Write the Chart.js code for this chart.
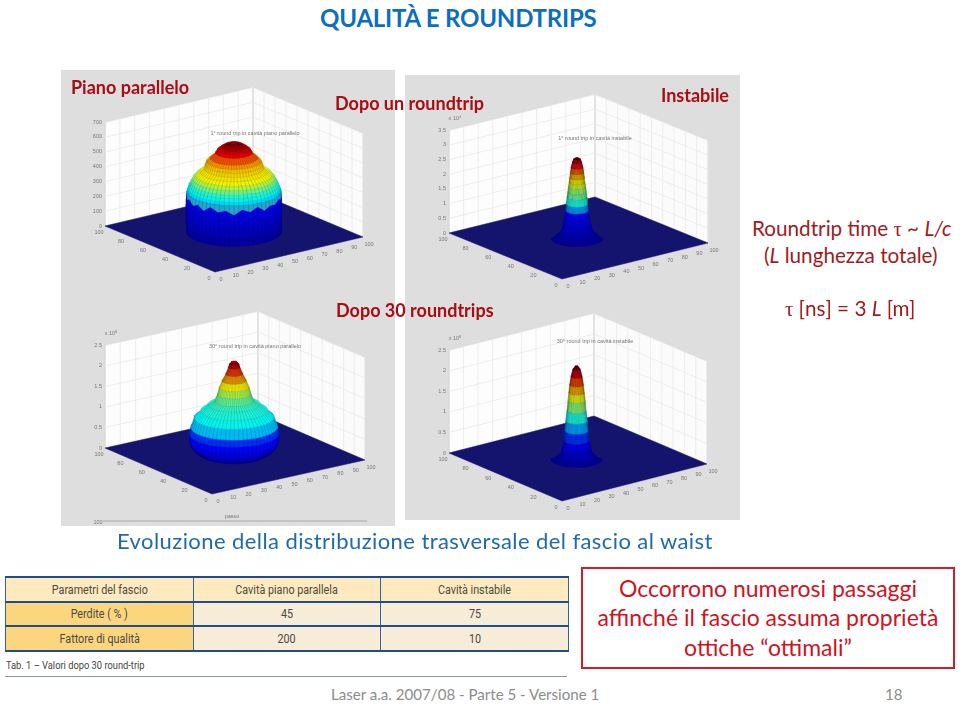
<!DOCTYPE html>
<html>
<head>
<meta charset="utf-8">
<script src="https://cdn.jsdelivr.net/npm/chart.js@4/dist/chart.umd.min.js"></script>
<style>
    html, body { margin: 0; padding: 0; background: #fff; }
    body { width: 960px; height: 705px; position: relative; overflow: hidden; font-family: Lato, "Open Sans", sans-serif; }
    .panel { position: absolute; background: #dedede; }
    .panel canvas { filter: blur(0.7px); }
    .t { position: absolute; white-space: nowrap; line-height: 1; transform: translateY(-50%); }
    .lab { font-weight: 700; font-size: 18px; color: #a90d12; }
    .side { font-size: 20.7px; color: #a01a1e; }
    .gr { font-family: "Liberation Serif", serif; }
    table { position: absolute; left: 5px; top: 576px; width: 564px; height: 76px; border-collapse: collapse; table-layout: fixed; font-family: Roboto, sans-serif; font-size: 12.5px; color: #4a4945; text-align: center; }
    td { border: 1.2px solid #2f63a3; border-top: 2px solid #1d4f8e; border-bottom: 2px solid #1d4f8e; padding: 0; background: #f7ecd8; }
    td span { display: inline-block; transform: scaleX(0.86); }
    tr:first-child td { background: #ffeac0; }
    td.h { background: #fbd67e !important; }
    #box { position: absolute; left: 581px; top: 567px; width: 370px; height: 98px; border: 2px solid #cf1d2b; }
</style>
</head>
<body>

<div class="t" style="left:320px;top:18px;font-size:24px;font-weight:700;color:#0b6fbe;letter-spacing:-0.2px">QUALITÀ E ROUNDTRIPS</div>

<div class="panel" style="left:61px;top:70px;width:334px;height:228px"><canvas id="chartA" width="334" height="228"></canvas></div>
<div class="panel" style="left:405px;top:75px;width:335px;height:223px"><canvas id="chartB" width="335" height="223"></canvas></div>
<div class="panel" style="left:61px;top:298px;width:334px;height:228px"><canvas id="chartC" width="334" height="228"></canvas></div>
<div class="panel" style="left:405px;top:298px;width:335px;height:222px"><canvas id="chartD" width="335" height="222"></canvas></div>

<div class="t lab" style="left:71px;top:87px">Piano parallelo</div>
<div class="t lab" style="left:335px;top:103px">Dopo un roundtrip</div>
<div class="t lab" style="left:661px;top:95px">Instabile</div>
<div class="t lab" style="left:336px;top:310px">Dopo 30 roundtrips</div>

<div class="t side" style="left:752px;top:229px">Roundtrip time <span class="gr">τ</span> ~ <i>L/c</i></div>
<div class="t side" style="left:764px;top:255px">(<i>L</i> lunghezza totale)</div>
<div class="t side" style="left:785px;top:309px"><span class="gr">τ</span> [ns] = 3 <i>L</i> [m]</div>

<div class="t" style="left:117px;top:541px;font-size:22px;color:#1f6aa8;letter-spacing:0.42px">Evoluzione della distribuzione trasversale del fascio al waist</div>

<table>
    <tr><td><span>Parametri del fascio</span></td><td><span>Cavità piano parallela</span></td><td><span>Cavità instabile</span></td></tr>
    <tr><td class="h"><span>Perdite ( % )</span></td><td><span>45</span></td><td><span>75</span></td></tr>
    <tr><td class="h"><span>Fattore di qualità</span></td><td><span>200</span></td><td><span>10</span></td></tr>
</table>
<div class="t" style="left:6px;top:666px;font-family:Roboto,sans-serif;font-size:11.5px;color:#444;transform:translateY(-50%) scaleX(0.81);transform-origin:left center">Tab. 1 – Valori dopo 30 round-trip</div>
<div style="position:absolute;left:5px;top:676px;width:562px;height:1px;background:#8a97a3"></div>

<div id="box"></div>
<div class="t" style="left:583px;width:370px;text-align:center;top:588px;font-size:23px;color:#d0131f">Occorrono numerosi passaggi</div>
<div class="t" style="left:583px;width:370px;text-align:center;top:617px;font-size:23px;color:#d0131f">affinché il fascio assuma proprietà</div>
<div class="t" style="left:583px;width:370px;text-align:center;top:647px;font-size:23px;color:#d0131f">ottiche “ottimali”</div>

<div class="t" style="left:331px;top:695px;font-size:15.1px;color:#8c8c8c">Laser a.a. 2007/08 - Parte 5 - Versione 1</div>
<div class="t" style="left:885px;top:695px;font-size:15.1px;color:#8c8c8c">18</div>

<script>
// beam profiles: radius on the floor (0-50) and height on the wall (0-1)
const radiusA = [25.7, 25.8, 25.9, 25.9, 25.8, 25.7, 25.5, 25, 24.3, 23.5, 22.4, 20.8, 18.5, 16.3, 15.6, 14.9, 13, 10, 9, 7.5, 6, 4.5, 2]
const heightA = [0, 0.08, 0.16, 0.24, 0.31, 0.355, 0.39, 0.42, 0.45, 0.48, 0.515, 0.55, 0.58, 0.61, 0.645, 0.68, 0.71, 0.76, 0.79, 0.81, 0.825, 0.84, 0.85]
const radiusB = [14, 12, 10, 8.4, 7.4, 6.6, 6, 5.8, 5.4, 5, 4.7, 4.3, 4, 3.6, 3.2, 2.5, 1.8, 0.6]
const heightB = [0, 0.015, 0.04, 0.08, 0.14, 0.205, 0.27, 0.335, 0.4, 0.45, 0.5, 0.545, 0.59, 0.64, 0.69, 0.74, 0.77, 0.78]
const radiusC = [17, 18, 21, 23, 24, 24, 23.3, 21.4, 18, 14, 10.5, 9, 8, 6.5, 4.5, 3, 2.5, 1.5]
const heightC = [0, 0.015, 0.04, 0.08, 0.135, 0.2, 0.265, 0.36, 0.425, 0.485, 0.52, 0.585, 0.65, 0.715, 0.78, 0.845, 0.875, 0.895]
const radiusD = [14, 11, 9, 7.8, 6.8, 6.3, 5.8, 5.2, 4.7, 4.2, 3.7, 3, 2, 0.8]
const heightD = [0, 0.015, 0.03, 0.1, 0.18, 0.275, 0.37, 0.47, 0.565, 0.645, 0.72, 0.8, 0.87, 0.9]

// ragged top of the blue cliff in the first panel, front half, left to right
const cliffA = [0.37, 0.33, 0.36, 0.32, 0.35, 0.31, 0.36, 0.32, 0.34, 0.3, 0.35, 0.32, 0.36, 0.31, 0.34, 0.33, 0.36, 0.33, 0.37]

// tick labels
const floorTicks = [0, 10, 20, 30, 40, 50, 60, 70, 80, 90, 100]
const sideTicks = [0, 20, 40, 60, 80, 100]
const zLabelsA = ['0', '100', '200', '300', '400', '500', '600', '700']
const zLabelsB = ['0', '0.5', '1', '1.5', '2', '2.5', '3', '3.5']
const zLabelsC = ['0', '0.5', '1', '1.5', '2', '2.5']
const zLabelsD = ['0', '0.5', '1', '1.5', '2', '2.5']
const titleA = '1° round trip in cavità piano parallelo'
const titleB = '1° round trip in cavità instabile'
const titleC = '30° round trip in cavità piano parallelo'
const titleD = '30° round trip in cavità instabile'

// where each 3d box sits on the page, colour stops are [height, position on the jet scale]
const panels = [
    {id: 'chartA', box: [61, 70, 334, 228], left: [105, 226], front: [215, 272], right: [363, 237], wall: 104, cx: 50, cy: 50,
        radius: radiusA, height: heightA, zLabels: zLabelsA, title: titleA, zExp: '', titlePos: [255, 133],
        stops: [[0, 0.03], [0.36, 0.12], [0.39, 0.33], [0.47, 0.42], [0.52, 0.52], [0.56, 0.62], [0.67, 0.68], [0.73, 0.78], [0.77, 0.87], [0.85, 0.97]]},
    {id: 'chartB', box: [405, 75, 335, 223], left: [449, 233], front: [562, 279], right: [708, 243], wall: 103, cx: 49, cy: 50,
        radius: radiusB, height: heightB, zLabels: zLabelsB, title: titleB, zExp: 'x 10⁴', titlePos: [595, 138],
        stops: [[0, 0.03], [0.25, 0.13], [0.33, 0.36], [0.5, 0.55], [0.62, 0.7], [0.78, 0.97]]},
    {id: 'chartC', box: [61, 298, 334, 228], left: [105, 448], front: [212, 494], right: [365, 460], wall: 103, cx: 49.5, cy: 50,
        radius: radiusC, height: heightC, zLabels: zLabelsC, title: titleC, zExp: 'x 10⁵', titlePos: [255, 346],
        stops: [[0, 0.03], [0.13, 0.1], [0.27, 0.2], [0.3, 0.3], [0.36, 0.37], [0.5, 0.42], [0.58, 0.5], [0.68, 0.62], [0.79, 0.78], [0.86, 0.88], [0.92, 0.98]]},
    {id: 'chartD', box: [405, 298, 335, 222], left: [449, 453], front: [562, 501], right: [707, 464], wall: 103, cx: 49, cy: 50,
        radius: radiusD, height: heightD, zLabels: zLabelsD, title: titleD, zExp: 'x 10⁵', titlePos: [595, 341],
        stops: [[0, 0.03], [0.2, 0.14], [0.4, 0.38], [0.62, 0.62], [0.82, 0.88], [0.9, 0.98]]},
]

const jet = [[0, 0, 0, 128], [0.125, 0, 0, 255], [0.375, 0, 255, 255], [0.625, 255, 255, 0], [0.875, 255, 0, 0], [1, 128, 0, 0]]

function lerpStops(stops, v) {
    if (v <= stops[0][0]) return stops[0].slice(1)
    for (let i = 1; i < stops.length; i++) {
        if (v <= stops[i][0]) {
            const k = (v - stops[i - 1][0]) / (stops[i][0] - stops[i - 1][0])
            return stops[i].slice(1).map((c, j) => stops[i - 1][j + 1] + (c - stops[i - 1][j + 1]) * k)
        }
    }
    return stops[stops.length - 1].slice(1)
}

function colourAt(panel, z, dark) {
    const c = lerpStops(jet, lerpStops(panel.stops, z)[0])
    const f = dark ? 0.8 : 0.95
    return 'rgb(' + c.map(v => Math.round(v * f)).join(',') + ')'
}

// floor coordinates 0-100 plus wall fraction -> axis values
function project(p, x, y, z) {
    return {
        x: p.front[0] + (p.right[0] - p.front[0]) * x / 100 + (p.left[0] - p.front[0]) * y / 100,
        y: p.front[1] + (p.right[1] - p.front[1]) * x / 100 + (p.left[1] - p.front[1]) * y / 100 - p.wall * z,
    }
}

function shape(points, fillColour, lineColour, lineWidth) {
    return {
        data: points.concat([points[0]]), showLine: true, fill: 'shape', tension: 0,
        backgroundColor: fillColour, borderColor: lineColour || fillColour, borderWidth: lineWidth === undefined ? 0.6 : lineWidth,
    }
}

function stroke(points, colour, width) {
    return {data: points, showLine: true, fill: false, tension: 0, borderColor: colour, borderWidth: width}
}

function frontAngle(p) {
    // angle of the rightmost point of a floor circle on screen
    const ux = p.right[0] - p.front[0], vx = p.left[0] - p.front[0]
    return Math.atan2(vx, ux)
}

function ringPoint(p, r, z, t) {
    return project(p, p.cx + r * Math.cos(t), p.cy + r * Math.sin(t), z)
}

function buildDatasets(p) {
    const sets = []
    // walls and floor
    sets.push(shape([project(p, 0, 100, 0), project(p, 100, 100, 0), project(p, 100, 100, 1), project(p, 0, 100, 1)], '#fdfdfd', '#cfcfcf', 0.5))
    sets.push(shape([project(p, 100, 100, 0), project(p, 100, 0, 0), project(p, 100, 0, 1), project(p, 100, 100, 1)], '#fbfbfb', '#cfcfcf', 0.5))
    floorTicks.forEach(v => {
        sets.push(stroke([project(p, v, 100, 0), project(p, v, 100, 1)], '#e6e6e6', 0.7))
        sets.push(stroke([project(p, 100, v, 0), project(p, 100, v, 1)], '#e6e6e6', 0.7))
    })
    p.zLabels.forEach((l, i) => {
        const z = i / (p.zLabels.length - 1) * 0.995
        sets.push(stroke([project(p, 0, 100, z), project(p, 100, 100, z), project(p, 100, 0, z)], '#e6e6e6', 0.7))
    })
    sets.push(shape([project(p, 0, 0, 0), project(p, 100, 0, 0), project(p, 100, 100, 0), project(p, 0, 100, 0)], '#14146f', '#14146f', 0.5))

    // surface, one band per profile reading, bottom to top
    const t0 = frontAngle(p), steps = 18
    const midFront = ringPoint(p, 10, 0, t0 + Math.PI / 2).y > ringPoint(p, 10, 0, t0 - Math.PI / 2).y ? 1 : -1
    const arc = (r, z, from, to) => {
        const pts = []
        for (let k = 0; k <= steps; k++) pts.push(ringPoint(p, r, z, from + (to - from) * k / steps))
        return pts
    }
    const frontL2R = (r, z) => arc(r, z, t0 + midFront * Math.PI, t0)
    const backR2L = (r, z) => arc(r, z, t0, t0 - midFront * Math.PI)
    for (let i = 0; i < p.radius.length - 1; i++) {
        const zMid = (p.height[i] + p.height[i + 1]) / 2
        sets.push(shape(frontL2R(p.radius[i], p.height[i]).concat(backR2L(p.radius[i + 1], p.height[i + 1])), colourAt(p, zMid), colourAt(p, zMid, true), 0.5))
        if (p.cliff && p.height[i + 1] >= 0.39 && p.height[i] < 0.39) {
            const r = p.radius[i], lower = arc(r, 0, t0 + midFront * Math.PI, t0).map((q, k) => ringPoint(p, r, p.cliff[k], t0 + midFront * Math.PI + (-midFront * Math.PI) * k / steps))
            sets.push(shape(lower.concat(arc(r, 0.39, t0, t0 + midFront * Math.PI)), '#25a5c9', '#25a5c9', 0.3))
        }
    }
    const last = p.radius.length - 1
    sets.push(shape(frontL2R(p.radius[last], p.height[last]).concat(backR2L(p.radius[last], p.height[last])), colourAt(p, p.height[last]), colourAt(p, p.height[last], true), 0.4))

    // mesh lines running down the visible side
    for (let m = 1; m < 30; m++) {
        const t = t0 + midFront * Math.PI * m / 30
        sets.push(stroke(p.radius.map((r, i) => ringPoint(p, r, p.height[i], t)), 'rgba(0,0,30,0.24)', 0.6))
    }

    // leftover axis at the foot of the lower left panel
    if (p.id === 'chartC') {
        sets.push(stroke([{x: 103, y: 521}, {x: 367, y: 521}], '#8f8f8f', 0.7))
    }

    sets.forEach((s, i) => { s.order = -i; s.pointRadius = 0; s.spanGaps = true })
    return sets
}

// tiny axis text goes through the same axes as the marks
const boxLabels = {
    id: 'boxLabels',
    afterDatasetsDraw(chart, args, opts) {
        const p = opts.panel, ctx = chart.ctx
        const put = (txt, q, align) => {
            ctx.textAlign = align || 'center'
            ctx.fillText(txt, chart.scales.x.getPixelForValue(q.x), chart.scales.y.getPixelForValue(q.y))
        }
        ctx.save()
        ctx.font = '5.5px "Liberation Sans", sans-serif'
        ctx.fillStyle = '#777'
        ctx.textBaseline = 'middle'
        p.zLabels.forEach((l, i) => {
            const q = project(p, 0, 100, i / (p.zLabels.length - 1))
            put(l, {x: q.x - 3, y: q.y}, 'right')
        })
        if (p.zExp) {
            const q = project(p, 0, 100, 1)
            put(p.zExp, {x: q.x + 6, y: q.y - 12})
        }
        floorTicks.forEach(v => {
            const q = project(p, v, 0, 0)
            put(String(v), {x: q.x + 6, y: q.y + 7})
        })
        sideTicks.forEach(v => {
            const q = project(p, 0, v, 0)
            put(String(v), {x: q.x - 6, y: q.y + 6})
        })
        put(p.title, {x: p.titlePos[0], y: p.titlePos[1]})
        if (p.id === 'chartC') {
            put('passo', {x: 232, y: 516})
            put('100', {x: 98, y: 522})
        }
        ctx.restore()
    },
}

panels[0].cliff = cliffA

panels.forEach(p => {
    new Chart(document.getElementById(p.id).getContext('2d'), {
        type: 'scatter',
        data: {datasets: buildDatasets(p)},
        options: {
            responsive: false,
            animation: false,
            layout: {padding: 0},
            plugins: {legend: {display: false}, tooltip: {enabled: false}, boxLabels: {panel: p}},
            scales: {
                x: {type: 'linear', display: false, min: p.box[0], max: p.box[0] + p.box[2]},
                y: {type: 'linear', display: false, reverse: true, min: p.box[1], max: p.box[1] + p.box[3]},
            },
        },
        plugins: [boxLabels],
    })
})
</script>
</body>
</html>
